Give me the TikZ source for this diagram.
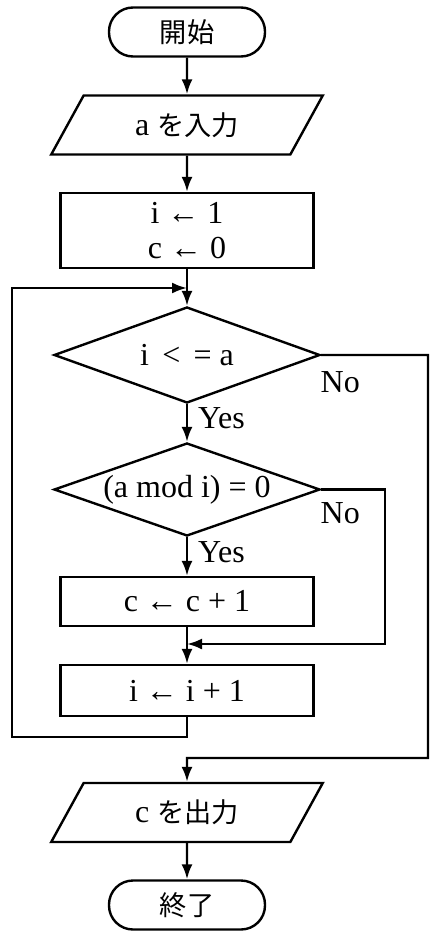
\documentclass[tikz,border=0pt]{standalone}
\usepackage{fontspec}
\setmainfont{Liberation Serif}
\newfontfamily\jpfont[Scale=0.85]{Noto Sans CJK JP}
\usetikzlibrary{shapes.geometric,arrows.meta,positioning}

\tikzset{
  flowline/.style={line width=1.2pt},
  flowarrow/.style={flowline,-{Latex[length=7.5pt,width=5.5pt]}},
  startstop/.style={draw,line width=1.2pt,rounded corners=12pt,minimum width=78pt,minimum height=24.5pt,inner sep=0pt},
  iobox/.style={draw,line width=1.2pt,trapezium,trapezium left angle=57,trapezium right angle=123,
    trapezium stretches=true,minimum width=136.5pt,minimum height=29.5pt,inner sep=0pt},
  procbox/.style={draw,line width=1.2pt,minimum width=126.5pt,align=center,inner sep=0pt},
  decision/.style={draw,line width=1.2pt,diamond,minimum width=133pt,inner sep=0pt},
  lbl/.style={inner sep=0pt}
}

\begin{document}
\begin{tikzpicture}[x=0.5pt,y=-0.5pt,font=\fontsize{16}{17.5}\selectfont]
\useasboundingbox (0,0) rectangle (430,931);

% main column
\node[startstop] (start) at (187,32) {\jpfont 開始};
\node[iobox] (input) at (187,125) {a {\jpfont を入力}};
\node[procbox,minimum height=37.5pt] (init) at (187,230.5) {i ← 1\\c ← 0};
\node[decision,aspect=2.77,minimum height=48pt] (cond) at (187,355) {i \,<\, = a};
\node[decision,aspect=2.86,minimum height=46.5pt] (check) at (187,489.5) {(a mod i) = 0};
\node[procbox,minimum height=24.5pt] (incr) at (187,601.5) {c ← c + 1};
\node[procbox,minimum height=25.5pt] (step) at (187,690.5) {i ← i + 1};
\node[iobox] (output) at (187,812.5) {c {\jpfont を出力}};
\node[startstop] (stop) at (187,905) {\jpfont 終了};

% bends
\coordinate (loopB) at (12,737);
\coordinate (loopT) at (12,288);
\coordinate (joinT) at (187,288);
\coordinate (skipR) at (385,644);
\coordinate (skipJ) at (187,644);
\coordinate (exitR) at (428,758);
\coordinate (exitJ) at (187,758);

\draw[flowarrow] (start) -- (input);
\draw[flowarrow] (input) -- (init);
\draw[flowarrow] (init) -- (cond);
\draw[flowarrow] (cond) -- node[right,pos=0.38,inner sep=5pt] {Yes} (check);
\draw[flowarrow] (check) -- node[right,pos=0.4,inner sep=5pt] {Yes} (incr);
\draw[flowarrow] (incr) -- (step);
\draw[flowarrow] (step.south) |- (loopB) -- (loopT) -- (joinT);
\draw[flowarrow] (check.east) -| (skipR) -- (skipJ);
\draw[flowarrow] (cond.east) -| (exitR) -- (exitJ) -- (output);
\draw[flowarrow] (output) -- (stop);

\node[lbl] (no1) at ([shift={(19,27)}]cond.east) {No};
\node[lbl] (no2) at ([shift={(19,24)}]check.east) {No};
\end{tikzpicture}
\end{document}
